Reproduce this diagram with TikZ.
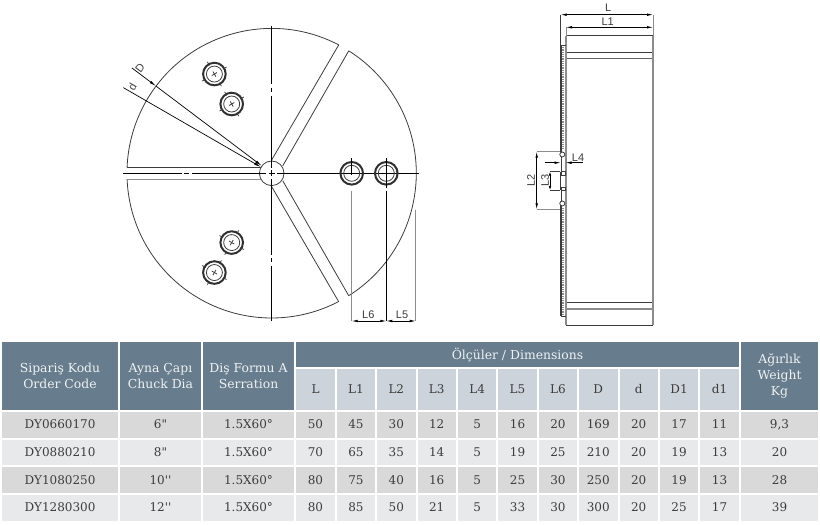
\documentclass[tikz,border=0pt]{standalone}
\usepackage{fontspec}
\setmainfont{DejaVu Serif}
\newfontfamily\dimfont{Liberation Sans}
\newfontfamily\cellfont{DejaVu Serif}[Ligatures=ResetAll]
\usetikzlibrary{arrows.meta, positioning, calc}
\definecolor{headblue}{HTML}{677D8D}
\definecolor{subgray}{HTML}{CDD3DA}
\definecolor{rowdark}{HTML}{D9D9D9}
\definecolor{rowlight}{HTML}{E8E9EA}
\definecolor{inkgray}{HTML}{3C3C3C}
\definecolor{headtext}{HTML}{EEF1F3}
\definecolor{steel}{HTML}{8C8C8C}

\begin{document}
\begin{tikzpicture}[x=1pt, y=1pt, node distance=2pt and 2pt]
        \tikzset{
        part/.style     = {line width=0.8pt, draw=inkgray},
        axis/.style     = {line width=0.8pt, draw=black},
        ring/.style     = {line width=2pt, draw=inkgray!80!black},
        dimline/.style  = {line width=0.7pt, draw=black, {Latex[length=6pt,width=2.6pt]}-{Latex[length=6pt,width=2.6pt]}},
        extline/.style  = {line width=0.9pt, draw=steel},
        dimlabel/.style = {inner sep=0pt, text=inkgray, font=\dimfont\fontsize{11}{11}\selectfont},
        cell/.style     = {inner sep=0pt, outer sep=0pt, align=center, minimum height=25.7pt, text height=9pt, text depth=1pt, text=inkgray, font=\cellfont\fontsize{12}{14}\selectfont},
        head/.style     = {inner sep=0pt, outer sep=0pt, align=center, fill=headblue, text=headtext, font=\cellfont\fontsize{12.4}{16}\selectfont},
        sub/.style      = {cell, fill=subgray, minimum width=38.4pt, minimum height=41pt},
        rowa/.style     = {cell, fill=rowdark},
        rowb/.style     = {cell, fill=rowlight},
        codew/.style    = {minimum width=116pt},
        diaw/.style     = {minimum width=81pt},
        serw/.style     = {minimum width=91pt},
        dimw/.style     = {minimum width=38.4pt},
        masw/.style     = {minimum width=77pt}
        }
        \useasboundingbox (0,0) rectangle (820,525);

        % Front view, drawn around the hub
        \begin{scope}[shift={(271.7,351.7)}]
        \coordinate (hub) at (0,0);
        \draw[part] (77,-122.4) arc[start angle=-57.8, end angle=57.8, radius=144.7];
        \draw[part] (67,128.4) arc[start angle=62.4, end angle=177.7, radius=144.7];
        \draw[part] (-144.6,-5.8) arc[start angle=182.3, end angle=297.6, radius=144.7];
        \draw[part] (hub) circle[radius=12.3];

        % Slots
        \draw[part] (-144.6,5.8) -- (-10.8,5.8);
        \draw[extline] (-144.6,-5.8) -- (-10.8,-5.8);
        \draw[part] (0,13.4) -- (67,128.4);
        \draw[part] (11,7.4) -- (77,122.4);
        \draw[part] (0,-13.4) -- (67,-128.4);
        \draw[part] (11,-7.4) -- (77,-122.4);

        % Centre lines
        \draw[axis] (0,147.7) -- (0,89);
        \draw[axis] (0,85.7) -- (0,81);
        \draw[axis] (0,77.7) -- (0,5.5);
        \draw[axis] (0,2.8) -- (0,-2.8);
        \draw[axis] (0,-5.5) -- (0,-81.6);
        \draw[axis] (0,-85) -- (0,-89);
        \draw[axis] (0,-92.3) -- (0,-148);
        \draw[axis] (-148.4,0) -- (-90,0);
        \draw[axis] (-87.7,0) -- (-82.4,0);
        \draw[axis] (-79.4,0) -- (-5.5,0);
        \draw[axis] (-2.8,0) -- (2.8,0);
        \draw[axis] (5.5,0) -- (147.3,0);

        % Holes
        \draw[ring] (0:80) circle[radius=11.3];
        \draw[part] (0:80) circle[radius=8];
        \draw[ring] (0:114.6) circle[radius=11.3];
        \draw[part] (0:114.6) circle[radius=8];
        \draw[axis] (80,15) -- (80,-2);
        \draw[axis] (114.6,15) -- (114.6,-15);

        \draw[ring] (120:80) circle[radius=11.3];
        \draw[part] (120:80) circle[radius=8];
        \draw[ring] (120:114.6) circle[radius=11.3];
        \draw[part] (120:114.6) circle[radius=8];
        \draw[ring] (240:80) circle[radius=11.3];
        \draw[part] (240:80) circle[radius=8];
        \draw[ring] (240:114.6) circle[radius=11.3];
        \draw[part] (240:114.6) circle[radius=8];

        \draw[part] ($(120:80)+(30:-14)$) -- ++(30:4);
        \draw[part] ($(120:80)+(30:14)$) -- ++(30:-4);
        \draw[part] ($(120:80)+(120:-14)$) -- ++(120:4);
        \draw[part] ($(120:80)+(120:14)$) -- ++(120:-4);
        \draw[part] ($(120:80)+(30:-3)$) -- ++(30:6);
        \draw[part] ($(120:80)+(120:-3)$) -- ++(120:6);
        \draw[part] ($(120:114.6)+(30:-14)$) -- ++(30:4);
        \draw[part] ($(120:114.6)+(30:14)$) -- ++(30:-4);
        \draw[part] ($(120:114.6)+(120:-14)$) -- ++(120:4);
        \draw[part] ($(120:114.6)+(120:14)$) -- ++(120:-4);
        \draw[part] ($(120:114.6)+(30:-3)$) -- ++(30:6);
        \draw[part] ($(120:114.6)+(120:-3)$) -- ++(120:6);
        \draw[part] ($(240:80)+(150:-14)$) -- ++(150:4);
        \draw[part] ($(240:80)+(150:14)$) -- ++(150:-4);
        \draw[part] ($(240:80)+(60:-14)$) -- ++(60:4);
        \draw[part] ($(240:80)+(60:14)$) -- ++(60:-4);
        \draw[part] ($(240:80)+(150:-3)$) -- ++(150:6);
        \draw[part] ($(240:80)+(60:-3)$) -- ++(60:6);
        \draw[part] ($(240:114.6)+(150:-14)$) -- ++(150:4);
        \draw[part] ($(240:114.6)+(150:14)$) -- ++(150:-4);
        \draw[part] ($(240:114.6)+(60:-14)$) -- ++(60:4);
        \draw[part] ($(240:114.6)+(60:14)$) -- ++(60:-4);
        \draw[part] ($(240:114.6)+(150:-3)$) -- ++(150:6);
        \draw[part] ($(240:114.6)+(60:-3)$) -- ++(60:6);

        % Diameter leaders
        \coordinate (bigEnd) at (143:175);
        \coordinate (bigRim) at (143:144.7);
        \coordinate (bigHub) at (143:12.3);
        \coordinate (smallEnd) at (150:171.3);
        \coordinate (smallHub) at (150:12.3);
        \draw[line width=0.7pt, -{Latex[length=7pt,width=2.6pt]}] (bigEnd) -- (bigRim);
        \draw[line width=0.7pt, -{Latex[length=7pt,width=2.6pt]}] (bigRim) -- (bigHub);
        \draw[line width=0.7pt, -{Latex[length=7pt,width=2.6pt]}] (smallEnd) -- (smallHub);
        \node[dimlabel, rotate=53] (dBig) at (-131.7,105) {D};
        \node[dimlabel, rotate=60] (dSmall) at (-139.4,86.4) {d};
        \end{scope}

        % L5 and L6
        \coordinate (l6a) at (351.7,204);
        \coordinate (l6b) at (386.3,204);
        \coordinate (l5b) at (415.7,204);
        \draw[extline] (351.7,334.3) -- (l6a);
        \draw[axis] (386.3,334.3) -- (l6b);
        \draw[extline] (415.7,315) -- (l5b);
        \draw[dimline] (l6a) -- (l6b);
        \draw[dimline] (l6b) -- (l5b);
        \node[dimlabel, above=2pt of l6a, xshift=16.6pt] (labL6) {L6};
        \node[dimlabel, above=2pt of l6b, xshift=15.7pt] (labL5) {L5};

        % Side view
        \draw[line width=1pt, draw=inkgray] (566,489) -- (653,489);
        \draw[line width=1pt, draw=inkgray] (566,199.7) -- (653,199.7);
        \draw[line width=1pt, draw=inkgray] (566,472.7) -- (653,472.7);
        \draw[line width=1.2pt, draw=steel!70!black] (566,466.3) -- (653,466.3);
        \draw[line width=1pt, draw=inkgray] (566,222.3) -- (653,222.3);
        \draw[line width=1.5pt, draw=steel] (566,216) -- (653,216);
        \draw[line width=1.5pt, draw=steel] (566,489) -- (566,199.7);
        \draw[line width=1.5pt, draw=steel] (653,489) -- (653,199.7);

        % Serrated plate
        \draw[line width=1.3pt, draw=inkgray] (561,480) -- (561,373);
        \draw[line width=1.3pt, draw=inkgray] (561,320) -- (561,208.7);
        \draw[line width=1.5pt, draw=steel, dash pattern=on 0.9pt off 0.9pt] (562.8,480) -- (562.8,376);
        \draw[line width=1.5pt, draw=steel, dash pattern=on 0.9pt off 0.9pt] (562.8,317) -- (562.8,208.7);
        \draw[line width=0.7pt, draw=inkgray] (561,208.7) -- (566,208.7);
        \draw[line width=0.7pt, draw=inkgray] (561,480) -- (566,480);
        \draw[part, fill=white] (562.3,370.5) circle[radius=2.5];
        \draw[part, fill=white] (562.3,321.5) circle[radius=2.5];
        \draw[part] (561,368) -- (561,353.3);
        \draw[part] (561,335) -- (561,324);
        \draw[part] (560,353.3) -- (560,335);
        \draw[part, fill=white] (561.7,353.3) rectangle (565.7,350);
        \draw[part, fill=white] (561.7,337.3) rectangle (565.7,335);

        % Side view dimensions
        \coordinate (lLeft) at (560.7,510.3);
        \coordinate (lRight) at (653,510.3);
        \coordinate (lOneLeft) at (566,497.7);
        \coordinate (lOneRight) at (653,497.7);
        \draw[line width=0.9pt, draw=inkgray] (lLeft) -- (560.7,480);
        \draw[extline] (lOneLeft) -- (566,489);
        \draw[extline] (lRight) -- (653,489);
        \draw[dimline] (lLeft) -- (lRight);
        \draw[dimline] (lOneLeft) -- (lOneRight);
        \node[dimlabel] (labL) at (608.3,517) {L};
        \node[dimlabel] (labL1) at (607.7,503.3) {L1};

        \coordinate (ltwoTop) at (536.7,373.3);
        \coordinate (ltwoBot) at (536.7,315.7);
        \coordinate (lthreeTop) at (550,353.3);
        \coordinate (lthreeBot) at (550,335);
        \draw[extline] (ltwoTop) -- (560,373.3);
        \draw[extline] (ltwoBot) -- (560,315.7);
        \draw[part] (lthreeTop) -- (560,353.3);
        \draw[part] (lthreeBot) -- (560,335);
        \draw[dimline] (ltwoTop) -- (ltwoBot);
        \draw[line width=0.7pt, {Latex[length=4pt,width=2.6pt]}-{Latex[length=4pt,width=2.6pt]}] (lthreeTop) -- (lthreeBot);
        \node[dimlabel, rotate=90] (labL2) at (531,344.5) {L2};
        \node[dimlabel, rotate=90] (labL3) at (545,344.5) {L3};

        \coordinate (lfourStart) at (545,362.3);
        \coordinate (lfourLeft) at (560.7,362.3);
        \coordinate (lfourRight) at (565.5,362.3);
        \coordinate (lfourEnd) at (583,362.3);
        \draw[line width=0.7pt, -{Latex[length=6pt,width=2.6pt]}] (lfourStart) -- (lfourLeft);
        \draw[line width=0.7pt, -{Latex[length=6pt,width=2.6pt]}] (lfourEnd) -- (lfourRight);
        \node[dimlabel] (labL4) at (578,367) {L4};

        % Table head
        \node[head, codew, minimum height=67.7pt] (hCode) at (60,148.85) {Sipariş Kodu\\Order Code};
        \node[head, diaw, minimum height=67.7pt, right=of hCode] (hDia) {Ayna Çapı\\Chuck Dia};
        \node[head, serw, minimum height=67.7pt, right=of hDia] (hSer) {Diş Formu A\\Serration};
        \node[head, minimum width=443pt, minimum height=24.7pt] (hDim) at (517.5,170.35) {Ölçüler / Dimensions};
        \node[head, masw, minimum height=67.7pt] (hMas) at (779.5,148.85) {Ağırlık\\Weight\\Kg};

        \node[sub] (sL) at (315.5,135.5) {L};
        \node[sub, right=of sL] (sLa) {L1};
        \node[sub, right=of sLa] (sLb) {L2};
        \node[sub, right=of sLb] (sLc) {L3};
        \node[sub, right=of sLc] (sLd) {L4};
        \node[sub, right=of sLd] (sLe) {L5};
        \node[sub, right=of sLe] (sLf) {L6};
        \node[sub, right=of sLf] (sD) {D};
        \node[sub, right=of sD] (sd) {d};
        \node[sub, right=of sd] (sDa) {D1};
        \node[sub, right=of sDa] (sda) {d1};

        % Row 1
        \node[rowa, codew, below=of hCode] (aCode) {DY0660170};
        \node[rowa, diaw, below=of hDia] (aDia) {6"};
        \node[rowa, serw, below=of hSer] (aSer) {1.5X60°};
        \node[rowa, dimw, below=of sL] (aL) {50};
        \node[rowa, dimw, below=of sLa] (aLa) {45};
        \node[rowa, dimw, below=of sLb] (aLb) {30};
        \node[rowa, dimw, below=of sLc] (aLc) {12};
        \node[rowa, dimw, below=of sLd] (aLd) {5};
        \node[rowa, dimw, below=of sLe] (aLe) {16};
        \node[rowa, dimw, below=of sLf] (aLf) {20};
        \node[rowa, dimw, below=of sD] (aD) {169};
        \node[rowa, dimw, below=of sd] (ad) {20};
        \node[rowa, dimw, below=of sDa] (aDa) {17};
        \node[rowa, dimw, below=of sda] (ada) {11};
        \node[rowa, masw, below=of hMas] (aMas) {9,3};

        % Row 2
        \node[rowb, codew, below=of aCode] (bCode) {DY0880210};
        \node[rowb, diaw, below=of aDia] (bDia) {8"};
        \node[rowb, serw, below=of aSer] (bSer) {1.5X60°};
        \node[rowb, dimw, below=of aL] (bL) {70};
        \node[rowb, dimw, below=of aLa] (bLa) {65};
        \node[rowb, dimw, below=of aLb] (bLb) {35};
        \node[rowb, dimw, below=of aLc] (bLc) {14};
        \node[rowb, dimw, below=of aLd] (bLd) {5};
        \node[rowb, dimw, below=of aLe] (bLe) {19};
        \node[rowb, dimw, below=of aLf] (bLf) {25};
        \node[rowb, dimw, below=of aD] (bD) {210};
        \node[rowb, dimw, below=of ad] (bd) {20};
        \node[rowb, dimw, below=of aDa] (bDa) {19};
        \node[rowb, dimw, below=of ada] (bda) {13};
        \node[rowb, masw, below=of aMas] (bMas) {20};

        % Row 3
        \node[rowa, codew, below=of bCode] (cCode) {DY1080250};
        \node[rowa, diaw, below=of bDia] (cDia) {10''};
        \node[rowa, serw, below=of bSer] (cSer) {1.5X60°};
        \node[rowa, dimw, below=of bL] (cL) {80};
        \node[rowa, dimw, below=of bLa] (cLa) {75};
        \node[rowa, dimw, below=of bLb] (cLb) {40};
        \node[rowa, dimw, below=of bLc] (cLc) {16};
        \node[rowa, dimw, below=of bLd] (cLd) {5};
        \node[rowa, dimw, below=of bLe] (cLe) {25};
        \node[rowa, dimw, below=of bLf] (cLf) {30};
        \node[rowa, dimw, below=of bD] (cD) {250};
        \node[rowa, dimw, below=of bd] (cd) {20};
        \node[rowa, dimw, below=of bDa] (cDa) {19};
        \node[rowa, dimw, below=of bda] (cda) {13};
        \node[rowa, masw, below=of bMas] (cMas) {28};

        % Row 4
        \node[rowb, codew, below=of cCode] (dCode) {DY1280300};
        \node[rowb, diaw, below=of cDia] (dDia) {12''};
        \node[rowb, serw, below=of cSer] (dSer) {1.5X60°};
        \node[rowb, dimw, below=of cL] (dL) {80};
        \node[rowb, dimw, below=of cLa] (dLa) {85};
        \node[rowb, dimw, below=of cLb] (dLb) {50};
        \node[rowb, dimw, below=of cLc] (dLc) {21};
        \node[rowb, dimw, below=of cLd] (dLd) {5};
        \node[rowb, dimw, below=of cLe] (dLe) {33};
        \node[rowb, dimw, below=of cLf] (dLf) {30};
        \node[rowb, dimw, below=of cD] (dD) {300};
        \node[rowb, dimw, below=of cd] (dd) {20};
        \node[rowb, dimw, below=of cDa] (dDa) {25};
        \node[rowb, dimw, below=of cda] (dda) {17};
        \node[rowb, masw, below=of cMas] (dMas) {39};
    \end{tikzpicture}
\end{document}
